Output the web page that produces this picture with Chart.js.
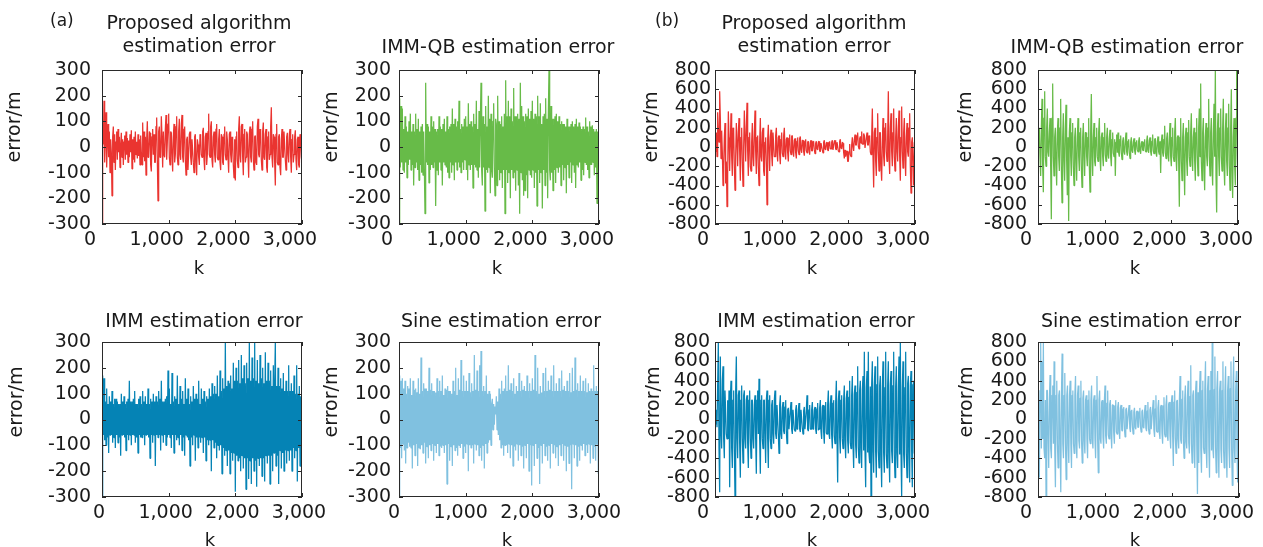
<!DOCTYPE html>
<html><head><meta charset="utf-8">
<script src="https://cdn.jsdelivr.net/npm/chart.js@4.4.1/dist/chart.umd.min.js"></script>
<style>
html,body{margin:0;padding:0;background:#fff;}
#wrap{position:relative;width:1263px;height:547px;overflow:hidden;font-family:"DejaVu Sans",sans-serif;color:#1a1a1a;}
canvas{position:absolute;left:0;top:0;}
.t{position:absolute;font-size:19px;line-height:23px;white-space:nowrap;text-align:center;width:320px;}
.p{position:absolute;font-size:17px;line-height:23px;white-space:nowrap;}
.yl{position:absolute;font-size:19px;line-height:19px;white-space:nowrap;transform:translate(-50%,-50%) rotate(-90deg);}
.xl{position:absolute;font-size:18px;line-height:18px;white-space:nowrap;transform:translate(-50%,-50%);}
</style></head>
<body>
<div id="wrap">
  <div class="p" style="left:50px;top:9px;">(a)</div>
  <div class="p" style="left:655px;top:9px;">(b)</div>
  <div class="t" style="left:39px;top:11px;">Proposed algorithm<br>estimation error</div>
  <div class="t" style="left:338px;top:35px;">IMM-QB estimation error</div>
  <div class="t" style="left:654px;top:11px;">Proposed algorithm<br>estimation error</div>
  <div class="t" style="left:967px;top:35px;">IMM-QB estimation error</div>
  <div class="t" style="left:44px;top:309px;">IMM estimation error</div>
  <div class="t" style="left:341px;top:309px;">Sine estimation error</div>
  <div class="t" style="left:656px;top:309px;">IMM estimation error</div>
  <div class="t" style="left:981px;top:309px;">Sine estimation error</div>
  <div class="yl" style="left:13px;top:127px;">error/m</div>
  <div class="yl" style="left:330px;top:127px;">error/m</div>
  <div class="yl" style="left:650px;top:127px;">error/m</div>
  <div class="yl" style="left:964px;top:127px;">error/m</div>
  <div class="yl" style="left:15px;top:402px;">error/m</div>
  <div class="yl" style="left:330px;top:402px;">error/m</div>
  <div class="yl" style="left:652px;top:402px;">error/m</div>
  <div class="yl" style="left:965px;top:402px;">error/m</div>
  <div class="xl" style="left:199px;top:268px;">k</div>
  <div class="xl" style="left:497px;top:268px;">k</div>
  <div class="xl" style="left:812px;top:268px;">k</div>
  <div class="xl" style="left:1135px;top:268px;">k</div>
  <div class="xl" style="left:210px;top:540px;">k</div>
  <div class="xl" style="left:507px;top:540px;">k</div>
  <div class="xl" style="left:812px;top:540px;">k</div>
  <div class="xl" style="left:1135px;top:540px;">k</div>
</div>
<script>
// ---- data: k = 0 .. 3000, one read-off value every 10 steps ----
const kMax = 3000;
const xTicks = [0, 1000, 2000, 3000];
const yTicksA = [-300, -200, -100, 0, 100, 200, 300];
const yTicksB = [-800, -600, -400, -200, 0, 200, 400, 600, 800];

// (a) Proposed algorithm
const propA = [
 -300,60,10,180,-60,40,135,-80,20,90,-40,60,-100,30,-20,-190,40,80,-60,50,
 -90,20,60,-50,70,-20,40,-80,10,55,-40,30,-70,20,45,-50,60,-30,35,-60,
 25,-40,50,-20,65,-85,30,-50,40,-60,60,-30,20,-45,50,-35,30,-70,45,-20,
 -70,95,-40,60,-55,40,-110,30,100,-40,-35,60,55,-70,-95,40,70,-30,50,-60,
 -60,80,115,-50,-210,60,80,-40,-30,120,40,-80,60,-30,-40,70,125,-50,20,90,
 130,-40,-70,60,55,-30,-95,40,90,-60,-30,80,120,-40,-70,60,110,-30,-50,90,
 125,-40,-60,70,80,-50,-110,30,40,-90,-90,50,60,-40,-70,30,30,-60,-100,40,
 50,-60,-110,30,10,-40,-70,50,40,-30,-40,60,75,-50,-90,40,55,-70,-30,60,
 130,-30,-40,80,100,-50,-80,40,60,-30,-60,70,90,-40,-50,30,70,-60,-90,50,
 40,-60,-70,50,80,-30,-50,60,30,-40,-100,50,60,-30,-60,40,25,-70,-120,30,
 -130,40,60,-50,-80,70,120,-30,-60,80,90,-40,-110,50,70,-60,-40,60,50,-30,
 -120,50,80,-40,-60,70,100,-50,-90,40,45,-60,-70,80,110,-30,-40,70,60,-50,
 -90,60,95,-40,-50,50,70,-80,-100,40,60,-50,-30,80,155,-40,-80,50,40,-60,
 -150,50,90,-60,-70,40,50,-80,-110,30,70,-40,-40,60,60,-50,-90,40,55,-30,
 -60,50,70,-40,-100,30,50,-60,-30,40,65,-50,-90,30,40,-70,-80,50,30,-40,
 -60];
// (a) IMM-QB
const immqbA = [
 -300,190,-80,160,-60,150,-90,70,-100,120,-60,80,-120,60,-70,100,-50,130,-90,60,
 -70,90,-150,60,-80,130,-60,70,-90,110,-130,60,-70,80,-100,90,-110,60,-80,-260,
 250,-60,90,-70,80,-140,60,-90,120,-70,80,-80,100,-60,70,-230,60,-90,70,-110,
 120,-60,80,-90,70,-150,90,-60,110,-70,60,-80,120,-100,70,-120,80,-60,90,-100,
 150,-70,90,-130,110,-60,80,-90,100,-60,180,-80,70,-100,90,-60,80,-90,110,-50,
 120,-90,80,-130,170,-70,90,-90,100,-70,80,-160,130,-70,90,-80,180,-90,70,-120,
 140,-80,100,250,-90,-150,120,-80,90,-250,160,-90,80,-100,200,-80,110,-180,130,-90,
 -120,100,170,-80,-190,110,90,-150,200,-90,100,-130,90,-100,120,-160,80,-90,130,-260,
 260,-90,120,-140,180,-100,120,-200,150,-90,100,-120,230,-100,120,-170,120,-90,130,-150,
 110,-260,250,-100,160,-130,120,-190,100,-170,130,-110,120,-200,150,-90,110,-110,140,-120,
 180,-90,110,-160,130,-100,120,-230,200,-90,120,-140,170,-100,90,-240,120,-90,130,-150,
 190,-100,110,-200,130,300,-90,-130,160,-100,110,-170,110,-90,120,-140,130,-80,100,-100,
 120,-80,90,-150,100,-70,90,-130,90,-80,80,-180,110,-70,80,-120,80,-60,90,-140,
 100,-70,80,-100,90,-160,110,-70,80,-80,95,-60,80,-130,70,-90,80,-110,70,-60,
 115,-70,80,-90,60,-120,100,-70,80,-70,85,-60,70,-110,60,-80,70,-220,60,-80,
 40];
// (a) IMM
const immA = [
 -300,170,-60,160,-80,70,-100,120,-70,60,-130,90,-60,70,-60,110,-90,60,-70,80,
 -110,80,-60,70,-90,60,-70,60,-140,100,-60,70,-60,90,-70,60,-120,70,-60,80,
 -80,150,-60,70,-100,70,-60,80,-60,110,-90,60,-70,60,-130,80,-60,90,-70,60,
 -70,110,-60,70,-100,90,-60,60,-60,120,-70,60,-150,80,-60,70,-90,100,-60,70,
 -180,90,-60,70,-70,110,-60,80,-120,150,-60,70,-90,70,-60,80,-100,90,-70,190,
 -60,120,-70,60,-110,180,-60,70,-130,90,-60,80,-80,170,-70,60,-100,130,-60,80,
 -120,110,-70,60,-140,160,-60,80,-70,120,-80,60,-180,90,-70,70,-100,130,-60,80,
 -160,100,-70,80,-110,150,-70,60,-90,120,-70,80,-130,110,-70,70,-160,90,-80,80,
 -100,120,-80,90,-200,140,-80,100,-110,130,-90,100,-150,170,-100,90,-120,190,-100,110,
 -210,160,-110,120,-140,300,-120,130,-180,150,-120,140,-210,170,-130,120,-160,220,-130,150,
 -280,200,-140,150,-160,230,-150,140,-200,250,-140,160,-190,210,-150,140,-270,220,-150,160,
 -230,300,-160,150,-250,240,-150,160,-200,300,-160,150,-260,230,-150,140,-180,250,-150,160,
 -220,200,-150,140,-240,260,-140,150,-170,220,-140,150,-250,190,-140,130,-200,210,-130,140,
 300,-180,130,-140,200,-250,130,-120,160,-190,120,-130,180,-200,110,-120,150,-170,110,-120,
 210,-160,110,-120,140,-200,110,-110,170,-150,100,-120,210,-240,100,-110,130,-180,90,-100,
 80];
// (a) Sine
const sineA = [
 -300,170,-110,150,-150,160,-95,120,-120,150,-170,100,-110,130,-90,120,-105,160,-110,95,
 -190,150,-100,115,-140,120,-95,105,-180,160,-110,100,-115,240,-100,110,-130,140,-90,120,
 -170,120,-105,110,-150,200,-100,115,-120,140,-95,110,-160,110,-100,105,-130,160,-95,110,
 -140,150,-105,110,-110,170,-100,95,-130,120,-100,115,-250,130,-95,110,-160,110,-105,100,
 -180,150,-100,110,-120,200,-110,95,-140,160,-100,115,-110,230,-95,110,-150,170,-105,110,
 -130,150,-95,110,-200,180,-100,105,-110,140,-100,110,-170,250,-95,115,-120,190,-100,110,
 -140,210,-110,265,-160,110,-100,130,-190,110,-95,170,-130,100,-90,110,-80,100,-100,60,
 80,-40,60,-20,50,20,90,-40,70,-60,120,-80,100,-110,150,-100,110,-140,120,-100,
 170,-100,110,-130,210,-95,115,-150,140,-100,110,-180,160,-105,100,-120,130,-95,110,-160,
 180,-100,110,-140,150,-105,115,-190,130,-100,110,-150,170,-95,110,-200,140,-100,110,-255,
 160,-100,115,-180,250,-95,110,-150,200,-110,100,-250,130,-100,105,-170,180,-95,110,-140,
 200,-105,110,-160,150,-100,115,-190,170,-95,110,-130,210,-100,110,-150,140,-105,110,-180,
 160,-100,110,-140,190,-95,115,-160,130,-100,110,-200,150,-105,110,-170,180,-100,105,-270,
 200,-95,110,-150,240,-100,115,-180,140,-105,110,-160,170,-100,110,-120,150,-95,110,-140,
 160,-100,105,-130,140,-95,110,-170,120,-100,110,-150,210,-105,110,-160,130,-95,110,-210,
 80];
// (b) Proposed algorithm
const propB = [
 -50,80,150,-100,360,200,50,580,300,-120,170,-50,-400,-200,100,250,-380,-150,-620,-300,
 370,100,-250,50,350,-100,-300,200,170,-200,-450,-100,250,50,-200,150,300,-50,-350,100,
 200,-150,-410,0,380,100,-150,200,460,-50,-300,100,150,-200,-250,50,250,-100,-200,150,
 380,-50,-280,100,120,-200,-400,50,300,-100,-150,150,200,-250,-300,50,100,-150,-600,80,
 230,-50,-250,100,180,-80,-200,150,150,-100,-100,120,200,-50,-150,100,120,-80,-180,80,
 150,-60,-100,120,200,-50,-130,80,100,-60,-150,90,130,-40,-80,110,120,-50,-100,70,
 90,-60,-120,60,100,-40,-80,90,110,-30,-60,70,70,-50,-90,60,80,-40,-60,50,
 60,-30,-80,50,70,-40,-40,60,50,-30,-70,40,60,-20,-30,50,60,-40,-50,40,
 40,-30,-60,50,70,-20,-30,40,50,-30,-40,50,60,-20,-20,50,70,-30,-30,60,
 70,-20,-30,50,50,-40,-50,60,80,-10,-20,50,40,-60,-120,-30,-100,-60,-40,-150,
 -150,-50,30,-80,-100,20,100,0,-40,80,130,20,20,120,150,10,-20,90,110,40,
 160,30,30,140,120,-10,-10,100,150,20,20,120,100,-50,-80,100,400,-100,-420,150,
 200,-150,-300,100,350,-50,-250,150,150,-200,-350,50,300,-100,-200,200,250,-50,-150,100,
 580,-100,-280,200,350,-50,-200,150,400,-100,-250,100,300,-50,-150,200,380,-100,-350,100,
 420,-50,-220,150,300,-100,-300,100,250,-50,-100,200,350,-200,-480,50,100,-150,-400,50,
 -150];
// (b) IMM-QB
const immqbB = [
 0,150,200,-100,-300,200,500,-200,-470,300,580,-100,-200,200,400,-50,-100,150,300,-200,
 -750,300,660,-100,-300,100,200,-150,-400,150,300,-100,-250,200,500,-200,-580,100,350,-150,
 -350,200,440,-150,-500,100,-770,150,300,-100,-300,150,250,-200,-400,100,200,-150,-350,100,
 300,-100,-250,150,200,-200,-420,100,250,-100,-300,150,150,-100,-200,100,300,-200,-470,150,
 550,-100,-300,100,250,-150,-200,100,200,-100,-150,150,300,-100,-250,100,150,-100,-200,100,
 250,-80,-150,100,200,-80,-120,90,180,-100,-200,80,150,-60,-100,80,-300,50,130,-60,
 150,-60,-100,80,120,-60,-130,60,100,-50,-80,70,150,-50,-90,60,80,-60,-120,50,
 100,-40,-60,50,90,-40,-80,50,70,-30,-50,60,100,-40,-70,40,60,-30,-40,50,
 80,-40,-50,60,120,-30,-60,70,100,-50,-90,60,130,-40,-70,80,90,-60,-100,60,
 110,-50,-80,60,-270,50,130,-60,-100,80,220,-60,-120,90,150,-80,-150,100,250,-100,
 -200,100,200,-100,-150,150,300,-100,-250,100,120,-150,-620,100,300,-150,-350,100,250,-150,
 -500,100,200,-150,-300,150,280,-100,-200,150,350,-100,-250,100,200,-150,-350,150,300,-100,
 -300,200,400,-100,660,-150,-350,150,300,-200,-450,100,250,-100,-200,200,500,-100,-300,150,
 300,-200,-400,150,450,-100,800,-300,-680,150,350,-100,-300,200,400,-100,-250,200,500,-200,
 -400,150,350,-150,-300,200,450,-200,-450,200,600,-250,-530,100,300,-200,-400,300,800,-100,
 -400];
// (b) IMM
const immB = [
 -50,60,100,-80,-80,800,-300,-750,650,-100,-300,400,550,-200,-400,300,300,-150,-200,200,
 -200,300,-700,200,400,-300,-500,200,300,-300,-800,300,650,-200,-400,250,300,-250,-600,200,
 350,-200,-450,250,300,-200,-300,200,250,-250,-500,200,300,-200,-400,200,200,-200,-300,150,
 250,-200,-560,200,300,-150,420,-200,-560,200,250,-200,-300,200,200,-150,-450,200,300,-200,
 -500,200,250,-200,-300,150,200,-150,-250,200,300,-150,-200,150,150,-150,-350,150,250,-150,
 -200,120,180,-120,-150,130,200,-120,-250,100,120,-100,-100,100,180,-100,-150,100,100,-100,
 -120,100,150,-100,-80,100,170,-100,-130,100,100,-90,-150,90,130,-100,-100,100,250,-100,
 -120,100,150,-100,-100,100,180,-100,-80,100,130,-100,-150,110,170,-110,-100,120,200,-120,
 -200,130,150,-130,-250,140,180,-140,-150,150,300,-150,-200,160,250,-160,-300,170,200,-170,
 -250,180,400,-180,-650,190,300,-190,-350,200,250,-200,-300,210,350,-210,-400,220,300,-220,
 -350,230,400,-240,-300,250,450,-250,-500,260,350,-270,-400,280,550,-290,-450,300,400,-300,
 -500,310,450,-320,700,-330,-700,330,500,-340,700,-350,-450,340,-800,360,600,-330,-550,350,
 550,-340,-600,360,650,-330,-500,350,450,-370,-700,340,600,-350,-550,330,700,-360,-500,350,
 600,-340,-650,360,500,-330,-450,350,700,-370,-600,340,550,-350,-500,330,650,-360,800,-350,
 -800,340,600,-360,-500,330,700,-350,-600,370,450,-340,-650,350,500,-330,-700,360,400,-350,
 -350];
// (b) Sine
const sineB = [
 0,200,-600,300,800,-300,600,-200,800,-300,-400,200,-800,300,300,-200,-500,200,460,-300,
 -400,250,350,-250,600,-300,-700,250,400,-250,-500,250,300,-250,-750,250,680,-250,-400,250,
 480,-250,-620,250,350,-250,-450,250,400,-250,-500,250,300,-250,-350,250,450,-250,-400,250,
 350,-220,-300,220,400,-220,-450,220,300,-220,-350,200,250,-200,-400,200,300,-200,-250,200,
 350,-200,-300,200,250,-200,-400,200,450,-200,-550,200,300,-200,-250,180,200,-180,-300,180,
 350,-170,-250,170,300,-160,-200,160,200,-150,-300,150,150,-140,-250,140,200,-130,-150,130,
 180,-120,-200,120,150,-110,-120,110,130,-100,-180,100,120,-100,-100,90,150,-90,-130,90,
 100,-80,-150,80,120,-80,-100,80,90,-80,-80,80,120,-80,-130,80,100,-80,-90,80,
 150,-90,-120,90,180,-100,-150,100,130,-100,-100,110,200,-110,-180,110,250,-120,-130,120,
 200,-130,-200,130,150,-140,-250,140,230,-150,-180,150,250,-160,-220,160,180,-170,-300,170,
 250,-180,-480,180,300,-190,-350,190,200,-200,-300,200,450,-210,-250,210,300,-220,-400,220,
 350,-230,-300,230,400,-240,-350,240,560,-250,-450,250,300,-260,-500,260,400,-280,-770,280,
 -450,290,500,-310,-550,300,400,-290,-350,320,600,-300,-500,310,450,-290,-600,300,500,-320,
 800,-300,-400,310,650,-290,-550,320,500,-300,-600,290,400,-310,-450,300,600,-320,-500,290,
 550,-310,-600,300,450,-290,-500,320,600,-300,-680,310,650,-290,-450,300,500,-320,-650,300,
 600];

const RED = '#ea3430', GREEN = '#67bb48', BLUE = '#0583b5', LBLUE = '#80c1e0';

// layout of each panel: plot box [left, right, top, bottom]
const panels = [
  {data: propA,  color: RED,   box: [102, 302, 70, 224],  yt: yTicksA, gap: 11, lo: -12},
  {data: immqbA, color: GREEN, box: [399, 599, 70, 224],  yt: yTicksA, gap: 8,  lo: -12},
  {data: immA,   color: BLUE,  box: [102, 302, 342, 497], yt: yTicksA, gap: 11, lo: -3},
  {data: sineA,  color: LBLUE, box: [399, 599, 342, 497], yt: yTicksA, gap: 8,  lo: -5},
  {data: propB,  color: RED,   box: [715, 915, 70, 224],  yt: yTicksB, gap: 4,  lo: -12},
  {data: immqbB, color: GREEN, box: [1038, 1238, 70, 224], yt: yTicksB, gap: 11, lo: -12},
  {data: immB,   color: BLUE,  box: [715, 915, 342, 497], yt: yTicksB, gap: 5,  lo: -12},
  {data: sineB,  color: LBLUE, box: [1038, 1239, 342, 497], yt: yTicksB, gap: 11, lo: -12}
];

const W = 1263, H = 547, YW = 70, XH = 50;
const FONT = {family: '"DejaVu Sans", sans-serif', size: 19};
const fmtK = v => v >= 1000 ? Math.floor(v / 1000) + ',' + String(v % 1000).padStart(3, '0') : String(v);

const framePlugin = {
  id: 'frame',
  afterDraw(chart) {
    const {ctx, chartArea: a, scales} = chart;
    ctx.save();
    ctx.strokeStyle = '#2a2a2a';
    ctx.lineWidth = 1;
    ctx.strokeRect(a.left + 0.5, a.top + 0.5, a.right - a.left - 1, a.bottom - a.top - 1);
    ctx.beginPath();
    const tl = 4;
    scales.x.ticks.forEach(t => {
      const px = Math.round(scales.x.getPixelForValue(t.value)) + 0.5;
      ctx.moveTo(px, a.bottom); ctx.lineTo(px, a.bottom - tl);
      ctx.moveTo(px, a.top); ctx.lineTo(px, a.top + tl);
    });
    scales.y.ticks.forEach(t => {
      const py = Math.round(scales.y.getPixelForValue(t.value)) + 0.5;
      ctx.moveTo(a.left, py); ctx.lineTo(a.left + tl, py);
      ctx.moveTo(a.right, py); ctx.lineTo(a.right - tl, py);
    });
    ctx.stroke();
    ctx.restore();
  }
};

const wrap = document.getElementById('wrap');
panels.forEach(p => {
  const cv = document.createElement('canvas');
  cv.width = W; cv.height = H;
  cv.style.width = W + 'px'; cv.style.height = H + 'px';
  wrap.insertBefore(cv, wrap.firstChild);
  const [L, R, T, B] = p.box;
  const yMax = p.yt[p.yt.length - 1], yMin = p.yt[0];
  const n = p.data.length;
  new Chart(cv, {
    type: 'line',
    data: {
      datasets: [{
        data: p.data.map((v, i) => ({x: i * kMax / (n - 1), y: v})),
        borderColor: p.color,
        borderWidth: 1.25,
        borderJoinStyle: 'bevel',
        pointRadius: 0,
        tension: 0,
        fill: false
      }]
    },
    options: {
      responsive: false,
      animation: false,
      devicePixelRatio: 1,
      events: [],
      layout: {padding: {left: L - YW, right: W - R, top: T, bottom: H - B - XH}},
      plugins: {legend: {display: false}, tooltip: {enabled: false}, title: {display: false}},
      scales: {
        x: {
          type: 'linear', min: 0, max: kMax,
          afterBuildTicks: s => { s.ticks = xTicks.map(v => ({value: v})); },
          ticks: {callback: v => fmtK(v), font: FONT, color: '#1a1a1a', padding: 5,
                  labelOffset: p.lo, maxRotation: 0, minRotation: 0, autoSkip: false},
          grid: {display: false, drawTicks: false},
          border: {display: false},
          afterFit: s => { s.height = XH; s.paddingLeft = 0; s.paddingRight = 0; }
        },
        y: {
          type: 'linear', min: yMin, max: yMax,
          afterBuildTicks: s => { s.ticks = p.yt.map(v => ({value: v})); },
          ticks: {callback: v => String(v), font: FONT, color: '#1a1a1a', padding: p.gap, autoSkip: false},
          grid: {display: false, drawTicks: false},
          border: {display: false},
          afterFit: s => { s.width = YW; s.paddingTop = 0; s.paddingBottom = 0; }
        }
      }
    },
    plugins: [framePlugin]
  });
});
</script>
</body></html>
